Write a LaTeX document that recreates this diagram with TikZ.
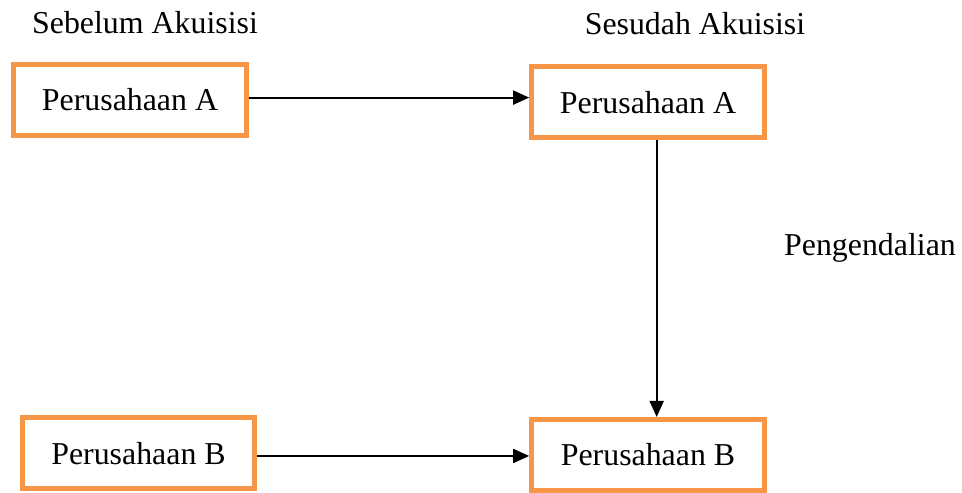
\documentclass[tikz,border=0pt]{standalone}
\usepackage{fontspec}
\setmainfont{Liberation Serif}
\usetikzlibrary{arrows.meta}
\definecolor{boxorange}{RGB}{247,150,70}
\begin{document}
\begin{tikzpicture}[x=0.75pt,y=0.75pt,yscale=-1,xscale=1,
	firmbox/.style={draw=boxorange,line width=3.75pt,minimum width=174.5pt,minimum height=53.3pt,inner sep=0pt,font=\fontsize{23.9}{28}\selectfont},
	caption/.style={anchor=base,inner sep=0pt,font=\fontsize{23.9}{28}\selectfont},
	arr/.style={line width=1.4pt,-{Triangle[length=12pt,width=10.5pt]}}]
	\useasboundingbox (0,0) rectangle (962,492);
	% Text Node
	\node (before) at (145,33.5) [caption] {Sebelum Akuisisi};
	% Text Node
	\node (after) at (695,34.5) [caption] {Sesudah Akuisisi};
	% Boxes
	\node (firmA) at (130,100) [firmbox] {Perusahaan A};
	\node (newA) at (648,102.3) [firmbox] {Perusahaan A};
	\node (firmB) at (138.5,453.3) [firmbox] {Perusahaan B};
	\node (newB) at (648,455) [firmbox] {Perusahaan B};
	% Text Node
	\node (control) at (870,255) [caption] {Pengendalian};
	%Straight Lines
	\draw [arr] ([yshift=-1.8pt]firmA.east) -- ([yshift=-1.8pt]firmA.east -| newA.west);
	\draw [arr] ([xshift=6.5pt]newA.south) -- ([xshift=6.5pt]newB.north);
	\draw [arr] ([yshift=2pt]firmB.east) -- ([yshift=2pt]firmB.east -| newB.west);
\end{tikzpicture}
\end{document}
